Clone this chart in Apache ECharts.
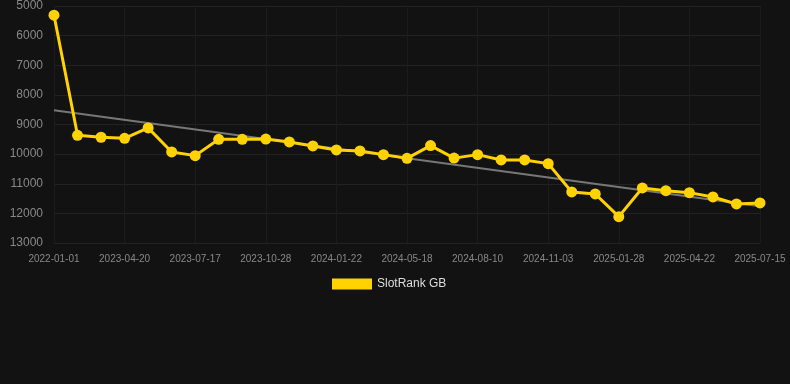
<!DOCTYPE html>
<html><head><meta charset="utf-8">
<script src="https://cdn.jsdelivr.net/npm/echarts@6/dist/echarts.min.js"></script>
<style>html,body{margin:0;padding:0;background:#121212;}#c{width:790px;height:384px;}</style>
</head><body><div id="c"></div>
<script>
var dates = ['2022-01-01','2023-02-20','2023-03-20','2023-04-20','2023-05-18','2023-06-17','2023-07-17','2023-08-18','2023-09-25','2023-10-28','2023-11-25','2023-12-24','2024-01-22','2024-02-20','2024-03-20','2024-05-18','2024-06-15','2024-07-13','2024-08-10','2024-09-07','2024-10-05','2024-11-03','2024-12-01','2024-12-30','2025-01-28','2025-02-25','2025-03-25','2025-04-22','2025-05-20','2025-06-17','2025-07-15'];
var ranks = [5310,9365,9430,9466,9115,9926,10051,9500,9500,9490,9590,9723,9858,9892,10017,10142,9713,10135,10017,10197,10197,10321,11278,11345,12111,11142,11233,11300,11446,11682,11649];
var trendEnds = [8520, 11760];
var yTicks = {min:5000, max:13000, step:1000};

var trend = dates.map(function(_, i){ return i===0 ? trendEnds[0] : (i===dates.length-1 ? trendEnds[1] : '-'); });

var chart = echarts.init(document.getElementById('c'), null, {renderer:'canvas'});
chart.setOption({
  backgroundColor:'#121212',
  animation:false,
  grid:{left:54, right:30, top:6, bottom:141},
  legend:{
    data:[{name:'SlotRank GB', icon:'rect'}],
    top:273, left:327,
    itemWidth:40, itemHeight:11, itemGap:10,
    textStyle:{color:'#dddddd', fontSize:12, fontFamily:'Liberation Sans, Arial, sans-serif'}
  },
  xAxis:{
    type:'category', data:dates, boundaryGap:false,
    axisLine:{show:false},
    axisTick:{show:false},
    axisLabel:{interval:2, color:'#888888', fontSize:10, margin:11, fontFamily:'Liberation Sans, Arial, sans-serif'},
    splitLine:{show:true, interval:2, lineStyle:{color:'#1c1c1c', width:1}}
  },
  yAxis:{
    type:'value', inverse:true, min:yTicks.min, max:yTicks.max, interval:yTicks.step,
    axisLine:{show:false}, axisTick:{show:false},
    axisLabel:{color:'#888888', fontSize:12, margin:11, fontFamily:'Liberation Sans, Arial, sans-serif',
      formatter:function(v){ return String(v); }},
    splitLine:{show:true, lineStyle:{color:'#222222', width:1}}
  },
  series:[
    {name:'trend', type:'line', data:trend, connectNulls:true, symbol:'none',
     lineStyle:{color:'#777777', width:2}, z:1, silent:true},
    {name:'SlotRank GB', type:'line', data:ranks, symbol:'circle', symbolSize:11,
     itemStyle:{color:'#ffd200'}, lineStyle:{color:'#ffd200', width:3}, z:2}
  ]
});
</script></body></html>
